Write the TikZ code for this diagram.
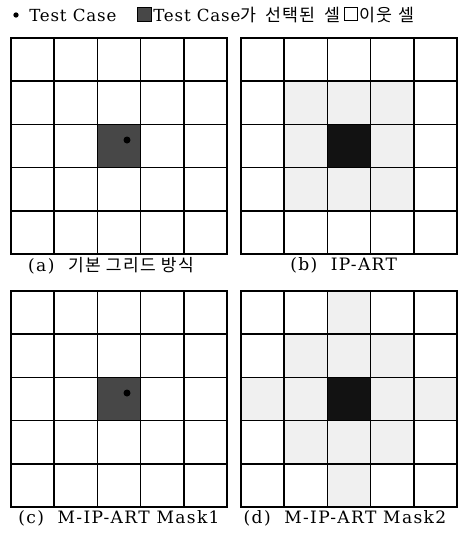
\documentclass[tikz,border=0pt]{standalone}
\usepackage{fontspec}
\setmainfont{DejaVu Serif}
\newfontfamily\kr{Noto Sans CJK KR}
\newfontfamily\widefont[LetterSpace=5]{DejaVu Serif}
\newfontfamily\capfont[LetterSpace=8]{DejaVu Serif}
\newfontfamily\widekr[LetterSpace=8]{Noto Sans CJK KR}
\usetikzlibrary{positioning, backgrounds}

\begin{document}
\begin{tikzpicture}[x=0.75pt, y=-0.75pt, node distance=1.5pt]
    \tikzstyle{cell} = [rectangle, draw, line width=1.3pt, minimum size=32.4pt, inner sep=0pt]
    \tikzstyle{legend} = [anchor=west, inner sep=0pt, font=\widefont\fontsize{12.5}{14}\selectfont]
    \tikzstyle{captext} = [inner sep=0pt, font=\capfont\fontsize{12.8}{14}\selectfont]

    \useasboundingbox (0,0) rectangle (458,536);

    % legend
    \node [circle, fill, inner sep=1.4pt] (tc) at (16,15) {};
    \node [legend] (tctext) at (29,15) {Test Case};
    \node [rectangle, draw, fill=black!72, minimum size=10.5pt, inner sep=0pt] (selbox) at (144.5,14) {};
    \node [legend] (seltext) at (153,15) {Test Case{\widekr\fontsize{13}{14}\selectfont 가\,\,\,선택된\,\,\,셀}};
    \node [rectangle, draw, minimum size=9.5pt, inner sep=0pt] (nbbox) at (351,14) {};
    \node [legend] (nbtext) at (359,15) {\widekr\fontsize{13}{14}\selectfont 이웃\,\,셀};

    % four 5x5 grids
    \foreach \g/\x/\y in {a/11/38, b/241/38, c/11/291, d/241/291} {
        \foreach \r in {0,...,4}
            \foreach \c in {0,...,4}
                \node [cell] (\g-\r-\c) at (\x+21.6+43.2*\c, \y+21.6+43.2*\r) {};
    }

    % shaded cells
    \begin{scope}[on background layer]
        \foreach \n in {b-1-1, b-1-2, b-1-3, b-2-1, b-2-3, b-3-1, b-3-2, b-3-3,
                        d-0-2, d-1-1, d-1-2, d-1-3, d-2-0, d-2-1, d-2-3, d-2-4,
                        d-3-1, d-3-2, d-3-3, d-4-2}
            \fill [black!6] (\n.south west) rectangle (\n.north east);
        \foreach \n in {a-2-2, c-2-2}
            \fill [black!72] (\n.south west) rectangle (\n.north east);
        \foreach \n in {b-2-2, d-2-2}
            \fill [black!93] (\n.south west) rectangle (\n.north east);
    \end{scope}

    % test case points
    \foreach \n in {a-2-2, c-2-2}
        \fill (\n.center) ++(8,-6) circle (3.5);

    % captions
    \node [captext, below=of a-4-2, xshift=-6pt] (capa) {(a)\ \ {\widekr 기본 그리드 방식}};
    \node [captext, below=of b-4-2, xshift=-4pt] (capb) {(b)\ \ IP-ART};
    \node [captext, below=of c-4-2] (capc) {(c)\ \ M-IP-ART Mask1};
    \node [captext, below=of d-4-2, xshift=-3pt] (capd) {(d)\ \ M-IP-ART Mask2};
\end{tikzpicture}
\end{document}
